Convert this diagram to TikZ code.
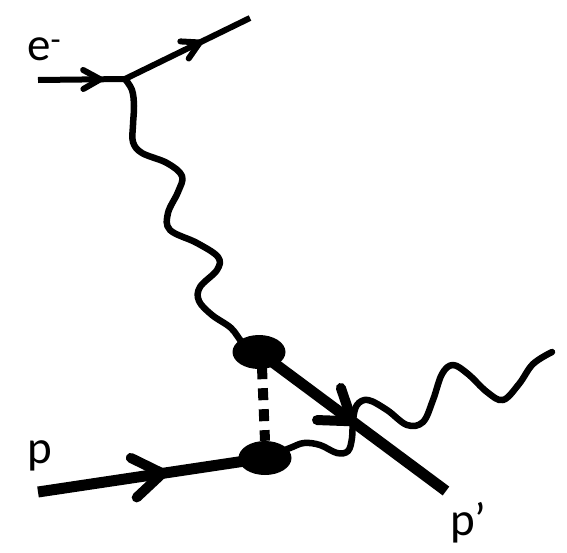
\documentclass[tikz,border=0pt]{standalone}
\usepackage{fontspec}
\setmainfont{Carlito}
\usepackage{tikz}
\usetikzlibrary{shapes.geometric, arrows.meta, decorations.markings}

\begin{document}
\begin{tikzpicture}[
    x=1pt, y=-1pt,
    % fermion lines with an arrow in the middle
    e_line/.style={draw=black, line width=6pt, postaction=decorate,
        decoration={markings, mark=at position #1 with {\arrow{Straight Barb[length=17pt, width=19pt, line width=6pt, round]}}}},
    p_line/.style={draw=black, line width=11pt, postaction=decorate,
        decoration={markings, mark=at position #1 with {\arrow{Straight Barb[length=29pt, width=40pt, line width=10pt, round]}}}},
    photon_line/.style={draw=black, line width=6.5pt, line cap=round, line join=round},
    exch_line/.style={draw=black, line width=10pt, dash pattern=on 12pt off 9pt},
    blob/.style={ellipse, fill=black, minimum width=53pt, minimum height=34pt, inner sep=0pt},
    label_text/.style={anchor=base west, inner sep=0pt, font=\fontsize{47}{50}\selectfont}
]
    \useasboundingbox (0,0) rectangle (567,552);

    % =========================================================================
    % ELECTRON VERTEX
    % =========================================================================
    \coordinate (ein) at (38,80);
    \coordinate (v1) at (125,79);
    \coordinate (eout) at (250,18);
    \node [label_text] (elab) at (27,60) {e\textsuperscript{-}};

    \draw [e_line=0.75] (ein) -- (v1);
    \draw [e_line=0.62] (v1) -- (eout);

    % =========================================================================
    % PROTON SIDE
    % =========================================================================
    \node [blob] (b1) at (259,352) {};
    \node [blob] (b2) at (265,458) {};
    \coordinate (pin) at (38,492);
    \coordinate (pout) at (446,491);
    \node [label_text] (plab) at (27,463) {p};
    \node [label_text] (poutlab) at (450,535) {p’};

    \draw [p_line=0.57] (pin) -- (b2.center);
    \draw [p_line=0.52] (b1.center) -- (pout);
    \draw [exch_line] (b1.south) ++(3,-2) -- (b2.north);

    % =========================================================================
    % PHOTONS
    % =========================================================================
    \draw [photon_line] plot[smooth, tension=0.6] coordinates {(v1) (132,90) (134,106) (133,125) (133,142) (142,153) (167,163) (182,176) (178,192) (168,213) (170,230) (197,243) (218,257) (217,270) (200,287) (199,301) (212,315) (231,328) (243,343) (b1.center)};

    \coordinate (gend) at (552,352);
    \draw [photon_line] plot[smooth, tension=0.6] coordinates {(b2.center) (290,448) (304,443) (320,445) (337,453) (348,451) (352,438) (353,420) (357,405) (368,400) (387,410) (407,425) (423,422) (433,400) (442,374) (453,365) (468,374) (487,392) (503,400) (519,384) (533,364) (gend)};
\end{tikzpicture}
\end{document}
